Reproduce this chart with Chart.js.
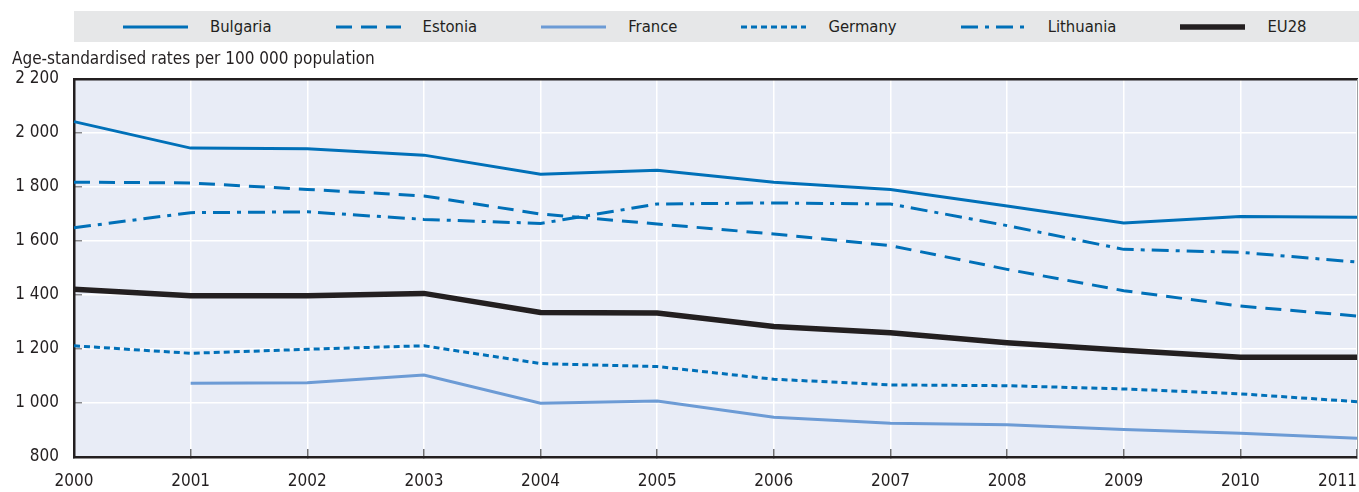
<!DOCTYPE html>
<html>
<head>
<meta charset="utf-8">
<title>Age-standardised rates per 100 000 population</title>
<script src="https://cdn.jsdelivr.net/npm/chart.js@4.4.1/dist/chart.umd.min.js"></script>
<style>
  html, body { margin: 0; padding: 0; background: #fff; }
  body {
    width: 1359px; height: 492px; position: relative; overflow: hidden;
    font-family: "DejaVu Sans Condensed", "DejaVu Sans", sans-serif;
    color: #231f20;
  }
  #chart-box { position: absolute; left: 0; top: 0; width: 1359px; height: 492px; }
  #legend {
    position: absolute; left: 74px; top: 11px; width: 1285px; height: 31px;
    background: #e6e7e8; box-sizing: border-box; padding-left: 49px;
    display: flex; align-items: center; gap: 64px; font-size: 16.5px;
  }
  #legend .item { display: flex; align-items: center; gap: 22px; white-space: nowrap; }
  #legend svg { display: block; }
  #ytitle { position: absolute; left: 12px; top: 48px; font-size: 17px; white-space: nowrap; }
</style>
</head>
<body>
<div id="chart-box"><canvas id="chart" width="1359" height="492"></canvas></div>
<div id="legend"></div>
<div id="ytitle">Age-standardised rates per 100 000 population</div>
<script>
// values
var years = ['2000', '2001', '2002', '2003', '2004', '2005', '2006', '2007', '2008', '2009', '2010', '2011'];
var bulgaria  = [2042, 1944, 1942, 1918, 1847, 1862, 1818, 1791, 1730, 1667, 1691, 1688];
var estonia   = [1818, 1815, 1791, 1767, 1700, 1663, 1626, 1583, 1495, 1416, 1359, 1322];
var france    = [null, 1073, 1075, 1104,  999, 1007,  947,  925,  919,  902,  888,  869];
var germany   = [1212, 1184, 1199, 1212, 1146, 1135, 1088, 1067, 1064, 1052, 1034, 1005];
var lithuania = [1649, 1705, 1708, 1680, 1665, 1737, 1741, 1737, 1657, 1569, 1558, 1522];
var eu28      = [1421, 1397, 1397, 1406, 1335, 1333, 1283, 1260, 1223, 1195, 1169, 1169];
var yTicks = [800, 1000, 1200, 1400, 1600, 1800, 2000, 2200];

var blue = '#0070b8';
var lightBlue = '#6c9bd5';
var black = '#231f20';

var series = [
    { label: 'Bulgaria',  data: bulgaria,  color: blue,      dash: [],            width: 3 },
    { label: 'Estonia',   data: estonia,   color: blue,      dash: [16, 9],       width: 3 },
    { label: 'France',    data: france,    color: lightBlue, dash: [],            width: 3 },
    { label: 'Germany',   data: germany,   color: blue,      dash: [6, 4],        width: 3 },
    { label: 'Lithuania', data: lithuania, color: blue,      dash: [17, 7, 4, 7], width: 3 },
    { label: 'EU28',      data: eu28,      color: black,     dash: [],            width: 5.5 }
];

// legend
var legend = document.getElementById('legend');
series.forEach(function (s) {
    var item = document.createElement('div');
    item.className = 'item';
    var dash = s.dash.length ? ' stroke-dasharray="' + s.dash.join(' ') + '"' : '';
    item.innerHTML = '<svg width="65" height="8"><line x1="0" y1="4" x2="65" y2="4" stroke="' + s.color +
        '" stroke-width="' + s.width + '"' + dash + '/></svg><span>' + s.label + '</span>';
    legend.appendChild(item);
});

function fmt(v) {
    if (v < 1000) return String(v);
    var r = String(v % 1000);
    while (r.length < 3) r = '0' + r;
    return Math.floor(v / 1000) + ' ' + r;
}

var plotBg = {
    id: 'plotBg',
    beforeDraw: function (chart) {
        var a = chart.chartArea, ctx = chart.ctx;
        ctx.save();
        ctx.fillStyle = '#e8ecf6';
        ctx.fillRect(a.left, a.top, a.right - a.left, a.bottom - a.top);
        ctx.restore();
    }
};

Chart.defaults.font.family = '"DejaVu Sans Condensed", "DejaVu Sans", sans-serif';
Chart.defaults.font.size = 17;
Chart.defaults.color = black;

new Chart(document.getElementById('chart'), {
    type: 'line',
    data: {
        labels: years,
        datasets: series.map(function (s) {
            return {
                label: s.label,
                data: s.data,
                borderColor: s.color,
                backgroundColor: s.color,
                borderWidth: s.width,
                borderDash: s.dash,
                pointRadius: 0,
                tension: 0,
                fill: false,
                spanGaps: false
            };
        })
    },
    options: {
        responsive: false,
        animation: false,
        events: [],
        layout: { padding: { top: 79, right: 2, left: 0, bottom: 0 } },
        plugins: {
            legend: { display: false },
            tooltip: { enabled: false }
        },
        scales: {
            x: {
                type: 'category',
                offset: false,
                grid: { color: '#ffffff', lineWidth: 1.5, tickColor: '#6d6e71', tickLength: -8, tickWidth: 1.5 },
                border: { color: black, width: 2.5 },
                ticks: {
                    padding: 22,
                    autoSkip: false,
                    maxRotation: 0,
                    callback: function (v, i) {
                        // last label sits inside the plot edge
                        return i === years.length - 1 ? years[i] + '        ' : years[i];
                    }
                },
                afterFit: function (s) { s.height = 35; s.paddingLeft = 0; s.paddingRight = 0; }
            },
            y: {
                min: 800,
                max: 2200,
                grid: { color: '#ffffff', lineWidth: 1.5, tickColor: '#8a8b8e', tickLength: -8, tickWidth: 1.5 },
                border: { color: black, width: 2.5 },
                ticks: { padding: 23, callback: function (v) { return fmt(v); } },
                afterBuildTicks: function (s) { s.ticks = yTicks.map(function (v) { return { value: v }; }); },
                afterFit: function (s) { s.width = 74; }
            },
            x2: {
                type: 'linear',
                position: 'top',
                grid: { display: false, drawTicks: false },
                ticks: { display: false },
                border: { color: black, width: 2.5 },
                afterFit: function (s) { s.height = 0; }
            },
            y2: {
                type: 'linear',
                position: 'right',
                grid: { display: false, drawTicks: false },
                ticks: { display: false },
                border: { color: '#9d9fa2', width: 1 },
                afterFit: function (s) { s.width = 0; }
            }
        }
    },
    plugins: [plotBg]
});
</script>
</body>
</html>
